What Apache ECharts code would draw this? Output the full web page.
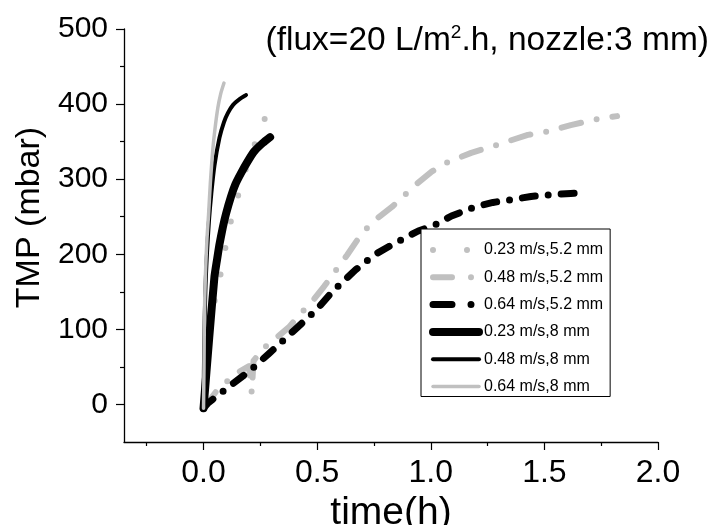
<!DOCTYPE html>
<html>
<head>
<meta charset="utf-8">
<script src="https://cdn.jsdelivr.net/npm/echarts@6/dist/echarts.min.js"></script>
<style>html,body{margin:0;padding:0;background:#fff}#c{width:718px;height:525px}</style>
</head>
<body>
<div id="c"></div>
<script>
// ---- data (time in h, TMP in mbar) ----
var seriesNames = ['0.23 m/s,5.2 mm', '0.48 m/s,5.2 mm', '0.64 m/s,5.2 mm', '0.23 m/s,8 mm', '0.48 m/s,8 mm', '0.64 m/s,8 mm'];

var tA = [0, 0.01, 0.03, 0.05, 0.077, 0.1, 0.128, 0.143, 0.18, 0.222, 0.267, 0.322];
var pA = [-5, 40, 100, 140, 176, 215, 255, 268, 308, 344, 379, 408];

var tB = [0, 0.03, 0.06, 0.09, 0.12, 0.16, 0.2, 0.206, 0.212, 0.22, 0.26, 0.318, 0.376, 0.427, 0.478, 0.53, 0.581, 0.632, 0.697, 0.756, 0.829, 0.931, 1.004, 1.077, 1.178, 1.295, 1.427, 1.507, 1.616, 1.733, 1.82];
var pB = [-5, 7, 19, 27, 35, 44, 51, 52, 16, 58, 74, 88, 103, 121, 137, 157, 178, 199, 228, 246, 263, 292, 310, 323, 335, 346, 359, 363, 372, 380, 384];

var tC = [0, 0.02, 0.05, 0.1, 0.2, 0.289, 0.4, 0.5, 0.566, 0.668, 0.756, 0.814, 0.894, 0.945, 1.018, 1.091, 1.193, 1.274, 1.339, 1.441, 1.514, 1.616, 1.667];
var pC = [-5, 2, 9, 21, 44, 68, 99, 127, 150, 179, 200, 210, 223, 231, 239, 251, 263, 269, 272, 277, 279, 281, 282];

var tD = [0, 0.025, 0.048, 0.059, 0.07, 0.085, 0.099, 0.121, 0.14, 0.165, 0.195, 0.223, 0.26, 0.293];
var pD = [-5, 89, 170, 192, 213, 236, 254, 277, 293, 308, 324, 337, 348, 356];

var tE = [0, 0.003, 0.008, 0.015, 0.024, 0.034, 0.048, 0.07, 0.09, 0.107, 0.13, 0.16, 0.187];
var pE = [-5, 80, 150, 200, 245, 280, 318, 355, 376, 388, 399, 407, 412];

var tF = [0, 0.002, 0.004, 0.008, 0.015, 0.022, 0.03, 0.041, 0.05, 0.063, 0.075, 0.09];
var pF = [-5, 50, 120, 170, 220, 252, 295, 340, 366, 395, 413, 428];

var xMajor = [0, 0.5, 1, 1.5, 2];
var xMinor = [-0.25, 0.25, 0.75, 1.25, 1.75];
var yMajor = [0, 100, 200, 300, 400, 500];
var yMinor = [50, 150, 250, 350, 450];

// ---- chart ----
var FONT = '"Liberation Sans", Arial, sans-serif';
function pairs(t, p) { return t.map(function (x, i) { return [x, p[i]]; }); }
var GRAY = '#c0c0c0', BLACK = '#000000';

var styles = [
  { color: GRAY, width: 6, type: [0, 27], smooth: false },
  { color: GRAY, width: 6, type: [20, 16, 0, 16], smooth: false },
  { color: BLACK, width: 7, type: [13, 13, 0, 13], smooth: false },
  { color: BLACK, width: 8, type: 'solid', smooth: 0.15 },
  { color: BLACK, width: 4, type: 'solid', smooth: 0.3 },
  { color: GRAY, width: 3.5, type: 'solid', smooth: 0.3 }
];
var legendTypes = [[0, 34], [19, 19, 0, 19], [19, 19, 0, 19], 'solid', 'solid', 'solid'];
var dataSets = [pairs(tA, pA), pairs(tB, pB), pairs(tC, pC), pairs(tD, pD), pairs(tE, pE), pairs(tF, pF)];

var series = seriesNames.map(function (n, i) {
  return {
    name: n, type: 'line', xAxisIndex: 0, yAxisIndex: 0,
    data: dataSets[i], symbol: 'none', smooth: styles[i].smooth,
    lineStyle: { color: styles[i].color, width: styles[i].width, type: styles[i].type, cap: 'round', join: 'round' },
    itemStyle: { color: styles[i].color },
    emphasis: { disabled: true }, animation: false
  };
});

var chart = echarts.init(document.getElementById('c'), null, { renderer: 'canvas' });
chart.setOption({
  animation: false,
  backgroundColor: '#fff',
  textStyle: { fontFamily: FONT },
  title: {
    text: '{a|(flux=20 L/m}{b|2}{a|.h, nozzle:3 mm)}',
    right: 4, top: 18,
    textStyle: {
      fontWeight: 'normal',
      rich: {
        a: { fontSize: 33.5, fontFamily: FONT, fontWeight: 'normal', color: '#000', lineHeight: 36 },
        b: { fontSize: 19, fontFamily: FONT, fontWeight: 'normal', color: '#000', verticalAlign: 'top', lineHeight: 20 }
      }
    }
  },
  legend: {
    orient: 'vertical', left: 421, top: 229,
    itemWidth: 46, itemHeight: 16, itemGap: 11.3,
    padding: [13, 7, 2, 8],
    borderColor: '#000', borderWidth: 1, borderRadius: 0, backgroundColor: '#fff',
    textStyle: { fontSize: 16, fontFamily: FONT, color: '#000' },
    lineStyle: { width: 'inherit' },
    itemStyle: { color: 'rgba(0,0,0,0)', borderWidth: 0, opacity: 0 },
    selectedMode: false,
    data: seriesNames.map(function (n, i) { return { name: n, lineStyle: { type: legendTypes[i] } }; })
  },
  grid: { left: 124, right: 60, top: 29, bottom: 83, containLabel: false, outerBoundsMode: 'none' },
  xAxis: [{
    type: 'value', min: -0.35, max: 2, position: 'bottom',
    axisLine: { onZero: false, lineStyle: { color: '#000', width: 1.3 } },
    axisTick: { customValues: xMajor, length: 8, lineStyle: { color: '#000', width: 1.2 } },
    axisLabel: { customValues: xMajor, formatter: function (v) { return v.toFixed(1); }, fontSize: 32, color: '#000', fontFamily: FONT, margin: 15 },
    splitLine: { show: false },
    name: 'time(h)', nameLocation: 'middle', nameGap: 47,
    nameTextStyle: { fontSize: 39, color: '#000', fontFamily: FONT }
  }, {
    type: 'value', min: -0.35, max: 2, position: 'bottom',
    axisLine: { show: false, onZero: false },
    axisTick: { customValues: xMinor, length: 4, lineStyle: { color: '#000', width: 1.2 } },
    axisLabel: { show: false }, splitLine: { show: false }
  }],
  yAxis: [{
    type: 'value', min: -50, max: 500, position: 'left',
    axisLine: { show: true, onZero: false, lineStyle: { color: '#000', width: 1.3 } },
    axisTick: { show: true, customValues: yMajor, length: 8, lineStyle: { color: '#000', width: 1.2 } },
    axisLabel: { customValues: yMajor, fontSize: 30, color: '#000', fontFamily: FONT, margin: 16 },
    splitLine: { show: false },
    name: 'TMP (mbar)', nameLocation: 'middle', nameGap: 58,
    nameTextStyle: { fontSize: 34, color: '#000', fontFamily: FONT, padding: [0, 0, 0, 36] }
  }, {
    type: 'value', min: -50, max: 500, position: 'left', offset: 0,
    axisLine: { show: false, onZero: false },
    axisTick: { show: true, customValues: yMinor, length: 4, lineStyle: { color: '#000', width: 1.2 } },
    axisLabel: { show: false }, splitLine: { show: false }
  }],
  series: series
});
</script>
</body>
</html>
